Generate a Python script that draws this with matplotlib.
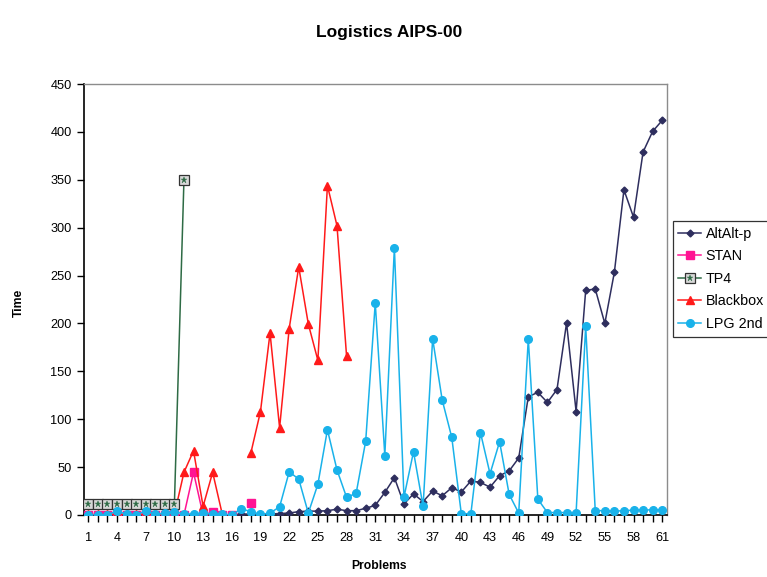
import numpy as np
import matplotlib
matplotlib.use("Agg")
import matplotlib.pyplot as plt

plt.rcParams['font.family'] = ['Liberation Sans', 'DejaVu Sans']

nan = np.nan
problems = list(range(1, 62))
tick_labels = [str(p) if (p - 1) % 3 == 0 else '' for p in problems]

altalt = [0, 0, 0, 0, 0, 0, 0, 0, 0, 0, 0, 0, 0, 0, 0, 0,
          1, 1, 1, 1, 1.5, 2, 3.5, 4, 4, 4.5, 6, 4.5, 4.5, 7,
          10, 23.5, 39, 11.5, 22, 14, 25, 20, 28.5, 24,
          35.5, 34, 29, 41, 46, 59.5, 123.5, 128, 117.5, 131,
          200.5, 108, 234.5, 236, 200, 253.5, 339.5, 311, 379, 400.5, 412]

stan = [0, 0, 0, 1.5, 0, 0, 1.5, 0, 0, 0.5, 0, 44.5, 0, 3, 0, 0,
        nan, 12] + [nan] * 43

tp4 = [11] * 10 + [350] + [nan] * 50

blackbox = [0.5] * 10 + [44.5, 67, 9, 44.5, 1, nan, nan,
                         65, 108, 190, 91, 194.5, 259, 199.5, 161.5, 344, 302, 166] + [nan] * 33

lpg = [0, 0, 0, 4.5, 0.5, 0, 4.5, 0.5, 2, 3.5,
       1, 1, 2, 1, 1, 0, 6.5, 3.5, 0.5, 2,
       8.5, 45, 37.5, 2, 32, 89, 47, 18.5, 22.5, 77,
       221.5, 62, 279, 18.5, 66, 9, 184, 120, 81, 1,
       1.5, 86, 43, 76.5, 21.5, 2, 184, 16.5, 2.5, 2.5,
       2.5, 2.5, 197, 4.5, 4.5, 4, 4.5, 5, 5, 5.5, 5.5]

series_names = ['AltAlt-p', 'STAN', 'TP4', 'Blackbox', 'LPG 2nd']

fig = plt.figure(figsize=(7.67, 5.77), dpi=100)
ax = fig.add_axes([0.1089, 0.1075, 0.7607, 0.7469])

c_alt = '#2E2E5E'
c_stan = '#FF1493'
c_tp4 = '#2E6B45'
c_bb = '#FF1A1A'
c_lpg = '#19B2EA'

h_alt, = ax.plot(problems, altalt, color=c_alt, lw=1.1, marker='D', ms=3.5,
                 mfc=c_alt, mec=c_alt, zorder=3)
h_stan, = ax.plot(problems, stan, color=c_stan, lw=1.1, marker='s', ms=5.5,
                  mfc=c_stan, mec=c_stan, zorder=4)
h_tp4, = ax.plot(problems, tp4, color=c_tp4, lw=1.1, marker='s', ms=6.5,
                 mfc='#D8D8D8', mec='#333333', mew=0.9, zorder=5)
h_tp4b, = ax.plot(problems, tp4, ls='none', marker='*', ms=4.5,
                  mfc=c_tp4, mec=c_tp4, mew=0.3, zorder=6)
h_bb, = ax.plot(problems, blackbox, color=c_bb, lw=1.1, marker='^', ms=5.5,
                mfc=c_bb, mec=c_bb, zorder=4)
h_lpg, = ax.plot(problems, lpg, color=c_lpg, lw=1.1, marker='o', ms=5.5,
                 mfc=c_lpg, mec=c_lpg, zorder=5)

ax.set_xlim(0.5, 61.5)
ax.set_ylim(0, 450)
ax.set_yticks(range(0, 451, 50))
ax.set_xticks(problems)
ax.set_xticklabels(tick_labels)
ax.tick_params(axis='both', direction='out', length=5, width=1, labelsize=9.2,
               color='black')
ax.tick_params(axis='x', pad=7)

for s in ['left', 'bottom']:
    ax.spines[s].set_color('black')
    ax.spines[s].set_linewidth(1.2)
for s in ['top', 'right']:
    ax.spines[s].set_color('#8C8C8C')
    ax.spines[s].set_linewidth(1.0)

fig.text(0.507, 0.943, 'Logistics AIPS-00', ha='center', va='center',
         fontsize=12.5, fontweight='bold')
fig.text(0.494, 0.019, 'Problems', ha='center', va='center',
         fontsize=8.7, fontweight='bold')
fig.text(0.024, 0.475, 'Time', ha='center', va='center', rotation=90,
         fontsize=8.7, fontweight='bold')

leg = fig.legend([h_alt, h_stan, (h_tp4, h_tp4b), h_bb, h_lpg], series_names,
                 loc='upper left', bbox_to_anchor=(0.877, 0.617),
                 fontsize=10.3, frameon=True, fancybox=False, shadow=False,
                 borderpad=0.4, labelspacing=0.6, handlelength=1.6,
                 handletextpad=0.3, borderaxespad=0)
leg.get_frame().set_edgecolor('black')
leg.get_frame().set_linewidth(0.9)

fig.savefig('out.png', dpi=100)
